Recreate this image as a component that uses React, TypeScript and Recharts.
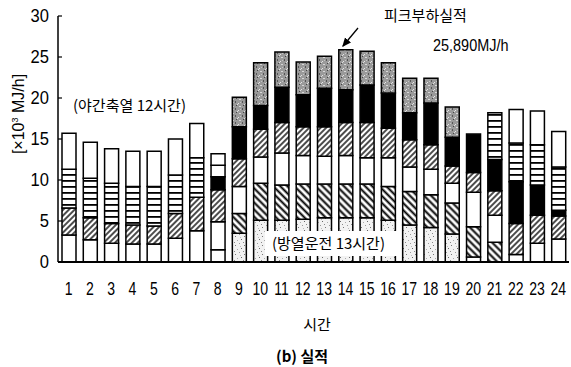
import React from "react";
import { BarChart, Bar, XAxis, YAxis, Cell } from "recharts";

// hours of the day
const hours = [
  "1", "2", "3", "4", "5", "6", "7", "8", "9", "10", "11", "12",
  "13", "14", "15", "16", "17", "18", "19", "20", "21", "22", "23", "24",
];

// stacked segments per hour, bottom (seg1) to top (seg6), in 10^3 MJ/h
const seg1 = [3.3, 2.7, 2.3, 2.2, 2.2, 2.9, 3.8, 1.5, 3.5, 5.1, 5.1, 5.2, 5.4, 5.4, 5.4, 5.1, 4.5, 4.2, 3.4, 0.6, 2.4, 0.9, 2.3, 2.8];
const seg2 = [3.3, 2.7, 2.4, 2.3, 2.2, 3.0, 4.1, 3.4, 2.4, 4.5, 4.3, 4.3, 4.1, 4.1, 4.1, 4.1, 4.1, 4.0, 3.8, 3.7, 3.3, 3.8, 3.4, 2.8];
const seg3 = [4.7, 4.8, 4.9, 4.7, 4.8, 4.7, 4.8, 3.9, 3.3, 3.2, 3.9, 3.5, 3.4, 3.5, 3.2, 3.5, 3.0, 3.1, 2.4, 4.2, 3.0, 5.1, 3.7, 0.7];
const seg4 = [4.4, 4.4, 4.2, 4.3, 4.3, 4.4, 4.2, 1.6, 3.4, 3.4, 3.7, 3.5, 3.6, 4.0, 4.3, 3.6, 3.3, 3.0, 2.1, 2.4, 3.8, 4.7, 4.9, 5.3];
const seg5 = [0, 0, 0, 0, 0, 0, 0, 1.4, 3.9, 2.9, 4.3, 3.9, 4.7, 4.0, 4.6, 4.3, 3.3, 5.1, 3.5, 4.7, 5.7, 4.1, 4.1, 4.3];
const seg6 = [0, 0, 0, 0, 0, 0, 0, 1.4, 3.6, 5.2, 4.3, 4.0, 3.9, 4.89, 4.1, 3.7, 4.2, 3.0, 3.7, 0, 0, 0, 0, 0];

// fill of each segment: W plain, F "/" hatch, B "\" hatch, H horizontal lines,
// K solid black, G light stipple, D dark stipple
const fill1 = ["W", "W", "W", "W", "W", "W", "W", "W", "G", "G", "G", "G", "G", "G", "G", "G", "G", "G", "G", "W", "B", "W", "W", "W"];
const fill2 = ["F", "F", "F", "F", "F", "F", "F", "W", "B", "B", "B", "B", "B", "B", "B", "B", "B", "B", "B", "B", "W", "F", "F", "F"];
const fill3 = ["H", "H", "H", "H", "H", "H", "H", "F", "W", "W", "W", "W", "W", "W", "W", "W", "W", "W", "W", "W", "F", "K", "K", "K"];
const fill4 = ["W", "W", "W", "W", "W", "W", "W", "K", "F", "F", "F", "F", "F", "F", "F", "F", "F", "F", "F", "F", "K", "H", "H", "H"];
const fill5 = ["W", "W", "W", "W", "W", "W", "W", "W", "K", "K", "K", "K", "K", "K", "K", "K", "K", "K", "K", "K", "H", "W", "W", "W"];
const fill6 = ["W", "W", "W", "W", "W", "W", "W", "W", "D", "D", "D", "D", "D", "D", "D", "D", "D", "D", "D", "W", "W", "W", "W", "W"];

const yTicks = [0, 5, 10, 15, 20, 25, 30];

const segs = [seg1, seg2, seg3, seg4, seg5, seg6];
const fills = [fill1, fill2, fill3, fill4, fill5, fill6];

const data = hours.map((h, i) => {
  const row: Record<string, string | number> = { hour: h };
  segs.forEach((s, k) => {
    row[`s${k + 1}`] = s[i];
  });
  return row;
});

const NUM_FONT = '"Liberation Sans", Arial, sans-serif';
const KR_FONT = '"Noto Sans CJK KR", "Noto Sans", sans-serif';

// condensed hour labels
const XTick = (props: any) => {
  const { x, y, payload } = props;
  return (
    <text
      transform={`translate(${x},${y}) scale(0.78,1)`}
      dy={15}
      textAnchor="middle"
      fontSize={18}
      fontFamily={NUM_FONT}
      fill="#000"
    >
      {payload.value}
    </text>
  );
};

// value labels plus a short inward tick on the axis
const YTick = (props: any) => {
  const { x, y, payload } = props;
  const axisX = x + 8;
  return (
    <g>
      <line x1={axisX} x2={axisX + 4} y1={y} y2={y} stroke="#000" strokeWidth={1.2} />
      <text
        transform={`translate(${x - 1},${y}) scale(0.92,1)`}
        dy={6}
        textAnchor="end"
        fontSize={18}
        fontFamily={NUM_FONT}
        fill="#000"
      >
        {payload.value}
      </text>
    </g>
  );
};

export default function App() {
  return (
    <div style={{ position: "absolute", left: 0, top: 0, width: 571, height: 367, background: "#fff" }}>
      <BarChart
        width={571}
        height={367}
        data={data}
        margin={{ top: 16, right: 2, left: 0, bottom: 75 }}
        barSize={14}
      >
        <defs>
          <pattern id="pat-W" patternUnits="userSpaceOnUse" width="4" height="4">
            <rect width="4" height="4" fill="#fff" />
          </pattern>
          <pattern id="pat-K" patternUnits="userSpaceOnUse" width="4" height="4">
            <rect width="4" height="4" fill="#000" />
          </pattern>
          <pattern id="pat-F" patternUnits="userSpaceOnUse" width="4" height="4" patternTransform="rotate(45)">
            <rect width="4" height="4" fill="#fff" />
            <line x1="1" y1="0" x2="1" y2="4" stroke="#000" strokeWidth="1.4" />
          </pattern>
          <pattern id="pat-B" patternUnits="userSpaceOnUse" width="5" height="5" patternTransform="rotate(-45)">
            <rect width="5" height="5" fill="#fff" />
            <line x1="1.5" y1="0" x2="1.5" y2="5" stroke="#000" strokeWidth="2" />
          </pattern>
          <pattern id="pat-H" patternUnits="userSpaceOnUse" width="4" height="6">
            <rect width="4" height="6" fill="#fff" />
            <rect y="0" width="4" height="1.8" fill="#000" />
          </pattern>
          <pattern id="pat-G" patternUnits="userSpaceOnUse" width="9" height="9">
            <rect width="9" height="9" fill="#f2f2f2" />
            <rect x="1" y="2" width="1" height="1" fill="#777" />
            <rect x="5" y="0" width="1" height="1" fill="#999" />
            <rect x="7" y="5" width="1" height="1" fill="#666" />
            <rect x="3" y="6" width="1" height="1" fill="#aaa" />
            <rect x="0" y="8" width="1" height="1" fill="#888" />
            <rect x="6" y="3" width="1" height="1" fill="#bbb" />
          </pattern>
          <pattern id="pat-D" patternUnits="userSpaceOnUse" width="7" height="7">
            <rect width="7" height="7" fill="#9a9a9a" />
            <rect x="1" y="1" width="2" height="1" fill="#d8d8d8" />
            <rect x="4" y="3" width="1" height="2" fill="#555" />
            <rect x="0" y="5" width="1" height="1" fill="#e6e6e6" />
            <rect x="5" y="0" width="1" height="1" fill="#444" />
            <rect x="2" y="4" width="1" height="1" fill="#c4c4c4" />
            <rect x="6" y="6" width="1" height="1" fill="#dedede" />
          </pattern>
        </defs>
        <XAxis
          dataKey="hour"
          height={30}
          tickLine={false}
          tickSize={6}
          tickMargin={12}
          axisLine={{ stroke: "#000", strokeWidth: 2 }}
          tick={<XTick />}
          interval={0}
        />
        <YAxis
          width={58}
          domain={[0, 30]}
          ticks={yTicks}
          tickLine={false}
          tickSize={6}
          tickMargin={2}
          axisLine={{ stroke: "#000", strokeWidth: 1.5 }}
          tick={<YTick />}
          interval={0}
        />
        {segs.map((_, k) => (
          <Bar key={k} dataKey={`s${k + 1}`} stackId="load" isAnimationActive={false}>
            {data.map((_, i) => (
              <Cell key={i} fill={`url(#pat-${fills[k][i]})`} stroke="#000" strokeWidth={1.5} />
            ))}
          </Bar>
        ))}
      </BarChart>

      <svg
        width={571}
        height={367}
        style={{ position: "absolute", left: 0, top: 0, pointerEvents: "none" }}
      >
        <defs>
          <marker id="arrowhead" markerWidth="8" markerHeight="8" refX="6" refY="4" orient="auto">
            <path d="M0,1 L7,4 L0,7 Z" fill="#000" />
          </marker>
        </defs>
        <text
          transform="translate(24,114) rotate(-90)"
          textAnchor="middle"
          fontSize={16}
          fontFamily={NUM_FONT}
          fill="#000"
        >
          [×10<tspan dy={-6} fontSize={9}>3</tspan>
          <tspan dy={6}> MJ/h]</tspan>
        </text>
        <text x={73} y={111} fontSize={15} fontFamily={KR_FONT} fill="#000">
          (야간축열 12시간)
        </text>
        <rect x={265} y={231} width={136} height={25} fill="#fff" />
        <text x={272} y={249} fontSize={15} fontFamily={KR_FONT} fill="#000">
          (방열운전 13시간)
        </text>
        <text x={384} y={21} fontSize={15} fontFamily={KR_FONT} fill="#000">
          피크부하실적
        </text>
        <text transform="translate(433,51) scale(0.85,1)" fontSize={17} fontFamily={NUM_FONT} fill="#000">
          25,890MJ/h
        </text>
        <line x1={358} y1={28} x2={343} y2={46} stroke="#000" strokeWidth={1.3} markerEnd="url(#arrowhead)" />
        <text x={317} y={330} textAnchor="middle" fontSize={15} fontFamily={KR_FONT} fill="#000">
          시간
        </text>
        <text x={302} y={362} textAnchor="middle" fontSize={15} fontWeight="bold" fontFamily={KR_FONT} fill="#000">
          (b) 실적
        </text>
      </svg>
    </div>
  );
}
